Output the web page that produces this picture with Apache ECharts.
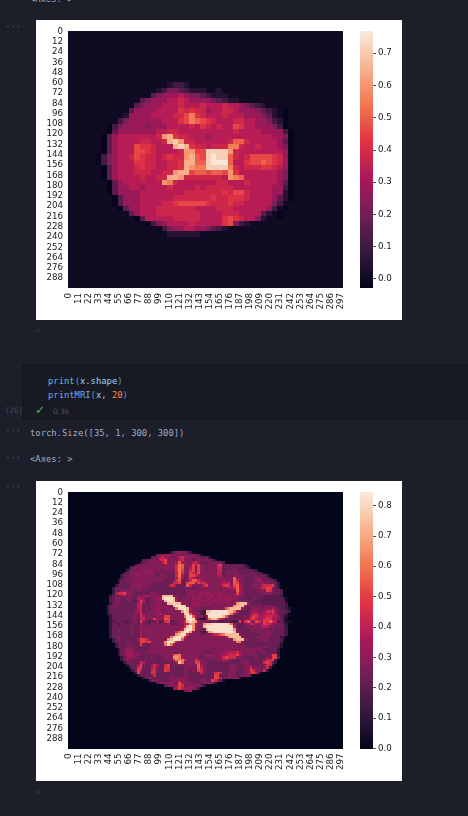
<!DOCTYPE html>
<html><head><meta charset="utf-8">
<script src="https://cdn.jsdelivr.net/npm/echarts@6/dist/echarts.min.js"></script>
<style>
html,body{margin:0;padding:0;background:#1c1e2a;width:468px;height:816px;overflow:hidden}
.t{position:absolute;white-space:pre;font-family:"DejaVu Sans Mono",monospace;font-size:8.85px;line-height:12px;color:#a8abc4}
.p{position:absolute;left:36px;width:366px;height:300px;background:#fff}
#c{position:absolute;left:0;top:0;width:468px;height:816px;filter:blur(0.4px)}
</style></head><body>
<div class="p" style="top:20px"></div>
<div class="p" style="top:481px"></div>
<div style="position:absolute;left:23px;top:365px;width:445px;height:54px;background:#181a23;box-shadow:0 0 0 1px #14151d"></div>
<div class="t" style="left:30px;top:-7px">&lt;Axes: &gt;</div>
<div class="t" style="left:5px;top:21px;color:#555868">···</div>
<div class="t" style="left:48px;top:375px"><span style="color:#4fc3e8">print</span><span style="color:#5b9bd8">(</span><span style="color:#9cd4fb">x.shape</span><span style="color:#5b9bd8">)</span></div>
<div class="t" style="left:48px;top:389px"><span style="color:#6ea8f0">printMRI</span><span style="color:#5b9bd8">(</span><span style="color:#9cd4fb">x,</span><span style="color:#3a3c48"> </span><span style="color:#ff8a4c">20</span><span style="color:#5b9bd8">)</span></div>
<div class="t" style="left:5px;top:405px;color:#454754;font-size:7.5px">[26]</div>
<div style="position:absolute;left:35px;top:403px;color:#5fb35f;font:12px/14px 'DejaVu Sans'">✓</div>
<div class="t" style="left:53px;top:406px;color:#50525e;font-size:7.5px;font-family:'DejaVu Sans'">0.3s</div>
<div class="t" style="left:5px;top:425px;color:#555868">···</div>
<div class="t" style="left:30px;top:427px">torch.Size([35, 1, 300, 300])</div>
<div class="t" style="left:5px;top:452px;color:#555868">···</div>
<div class="t" style="left:30px;top:453px">&lt;Axes: &gt;</div>
<div class="t" style="left:5px;top:481px;color:#555868">···</div>
<div class="t" style="left:34px;top:324px;color:#2a2c38">◀</div>
<div class="t" style="left:34px;top:785px;color:#2a2c38">◀</div>
<div id="c"></div>
<script>
const pixelCategories = Array.from({length:300},(_,i)=>String(i));
const lowResCols = 50, hiResCols = 100;
const lowResLevels = [0,.05,.11,.16,.22,.28,.335,.38,.42,.46,.5,.55,.6,.65,.71,.76];
const hiResLevels = [0,.04,.08,.13,.19,.23,.28,.33,.38,.44,.5,.55,.6,.66,.74,.82];
const lowResRange = [-0.029,0.769], hiResRange = [0,0.844];
const lowResTicks = [0,0.1,0.2,0.3,0.4,0.5,0.6,0.7];
const hiResTicks = [0,0.1,0.2,0.3,0.4,0.5,0.6,0.7,0.8];
const rocket = ['#03051a','#35193e','#701f57','#ad1759','#e13342','#f37651','#f6b48f','#faebdd'];

// First map: intensity levels per row, starting at row 10, col 0
const lowResFirstRow = 10;
const lowResRows = [
"00000 00000 00000 00012 21000",
"00000 00000 00000 01244 32111 00100",
"00000 00000 00000 34555 65443 21110",
"00000 00000 00034 55566 76555 54321 10000",
"00000 00000 00345 55666 76667 66676 65432 1",
"00000 00000 03555 56666 87877 56677 65554 3210-",
"00000 00000 15555 66667 79b87 66676 66555 4310-",
"00000 00002 45555 55666 89ba9 87666 77665 5421-",
"00000 00-24 55554 55566 66768 76766 98665 5542-",
"00000 00-35 55555 56677 66666 66666 76666 55552 -",
"00000 0-356 66666 67cd8 77666 56666 66666 66554 -",
"00000 0-356 66677 667de c7766 66667 aa766 66653 -",
"00000 0-356 66988 7666d ed877 6777b b7667 66654 -",
"00000 0-356 66998 76666 7cc99 eeeec 76666 66665 -",
"00000 -2456 67987 76787 7cda9 efeea 76799 99875 -",
"00000 -2456 66887 76677 8ddaa efffa 66899 a9875 -",
"00000 0-356 66787 76677 8dcbb eeeeb 76777 88765 -",
"00000 0-356 66777 6677c dd9aa 9aa9c 86666 66654 -",
"00000 0-356 66676 677dd c7777 7776c ba666 66654 -",
"00000 00-35 66666 66cb7 66666 66776 66766 66653 -",
"00000 00-35 56656 66676 66676 77777 66666 66552 -",
"00000 00-35 55566 66666 67777 77787 99766 66551 -",
"00000 000-3 55566 66667 77777 78778 88766 66531 -",
"00000 000-3 55566 66778 99999 87778 77666 66420",
"00000 0000- 35566 67777 77766 66777 66666 6520-",
"00000 00000 03566 67777 77776 66677 76666 310-0",
"00000 00000 00-36 66667 77776 66689 87664 100-0",
"00000 00000 0000- 24566 66766 66689 42100",
"00000 00000 00000 00245 56655 43210",
"00000 00000 00000 00011 11110"
];

// Second map: intensity levels per row, starting at row 23, col 10
const hiResFirstRow = 23, hiResFirstCol = 10;
const hiResRows = [
"00000 00000 00000 00000 00000 00356 66653 10000",
"00000 00000 00000 00000 00566 78666 65666 66420",
"00000 00000 00000 00000 55689 76666 89766 66655 53000",
"00000 00000 00000 00456 66699 a6656 89666 56666 66530",
"00000 00000 00000 03566 66668 a6667 b7766 89755 56665 64000",
"00000 00000 00003 65666 66666 76669 cb766 a8a66 56669 a5555 55553",
"00000 00000 00356 66666 66666 66669 cb668 a5a76 56669 95555 65544 30000",
"00000 00000 03565 66667 66665 66669 ca669 a5a66 56668 95565 65555 55430",
"00000 00000 35566 66676 76565 55668 c966a 97a66 66669 85666 66555 55554 30000",
"00000 00003 55666 76666 66566 65559 c856a a9766 66668 85565 66655 65555 55300",
"00000 00003 55566 67666 66666 55558 b7569 87666 66666 66666 b6665 55666 55530",
"00000 00035 56666 66666 66666 55569 b5569 bb976 66666 67666 b9665 55567 65555 30000",
"00000 00035 55666 66666 65555 55599 a55ab b6a99 77666 68896 ba665 55566 76655 53000",
"00000 00355 55566 76666 55555 56995 555b9 66669 a6666 69a97 ab765 55666 8999a 53000",
"00000 03555 55566 66665 55555 55555 55555 55666 66666 66687 9b865 55666 99aa6 53000",
"00000 03556 66665 66555 55555 55555 55566 66666 66666 66666 6b865 55556 66a96 55400",
"00000 03899 a7665 55555 66655 55555 55566 66676 77667 76666 6a765 55555 66665 55400",
"00000 35556 76655 66787 6666e eee66 55566 76676 76767 67776 66665 55555 55444 44310",
"00000 45665 56655 88755 6677e fffe7 56666 76766 67676 76777 66555 45555 54444 44431",
"00000 45665 55654 6a855 66676 effe8 56666 67676 76777 67776 66665 55544 44444 44441",
"00000 35665 55555 89655 66766 6eefe e6666 77766 67666 66666 6deee 75555 54444 44443",
"00003 55655 55555 89555 66666 666ef ffe66 76666 66666 66666 deee7 56556 55665 54443",
"00003 55655 55555 89565 66766 6666c fffe7 66655 55666 66bde eee75 55666 56668 65443 2",
"00003 55555 55556 79566 66766 66666 6dfe7 66543 eefff fffee c7555 56776 6799a 75554 3",
"00003 45555 55556 69666 66686 66666 66efb 76643 effff fffec 75555 56897 78889 85443",
"00000 35555 55566 59866 66666 aa666 66cff b6664 7ffff feb75 55556 58a98 78998 86532",
"00000 35555 55566 58966 6a766 ba766 668ff f8322 7ceec 97555 55556 69a86 89a97 76531",
"00000 34555 44556 5a654 55745 9a455 679ef ed766 65565 44554 34a59 b86a9 7a9b9 84532 1",
"00000 35545 55555 57555 66656 67555 6689d d766d eefff fffeb 75556 69876 7a986 75542",
"00000 35555 55565 57666 66666 66666 669ef d766e fffff fffff 85555 65666 88866 55543",
"00000 35565 55565 57666 66666 66666 68eff d6654 effff fffff d5555 56666 66656 55543",
"00000 35565 55565 58666 66666 66669 ceffd 66543 7deff fffff e6555 55666 66665 55543",
"00000 35555 55565 57666 66666 6666d eff96 66655 66799 bceee ee755 55555 66665 55543",
"00000 35565 55555 58666 66666 66cef fe966 66666 66666 668de eee65 55566 65655 55330",
"00000 03565 55555 7aa96 66666 6deff fb666 66666 66666 66676 deee6 55556 66655 55420",
"00000 03555 56555 6aa9a 66666 dffe8 66666 66666 66666 66666 6cc65 55555 55555 55310",
"00000 00355 55655 5a655 66666 cfc76 66666 66666 66666 66666 66665 55555 55555 54200",
"00000 00355 56665 55555 66666 66666 66666 66666 66666 67666 66666 55555 56655 54200",
"00000 00035 67665 55556 66666 66666 66666 66666 66666 66666 66666 66666 65555 53000",
"00000 00035 57776 65566 66666 66655 66666 66665 55566 67788 89766 66655 66555 53000",
"00000 00035 67776 66555 55556 666bc c7666 66656 77766 77899 9a866 66665 5556a a3000",
"00000 00003 57776 55555 65556 666dd c7666 66655 66666 69a99 96655 55565 5566a a4000",
"00000 00003 56655 55565 55555 6669c cc966 6a866 55566 68865 55566 55555 5699a 30000",
"00000 00000 35655 59855 56555 55567 ec666 6aa66 65555 55555 55566 65555 69a95 30000",
"00000 00000 03555 7a655 79855 9a565 66666 66b76 55555 55556 65556 66555 56993",
"00000 00000 00355 9a555 89655 9a565 55666 65b86 55555 55556 66556 69666 56930",
"00000 00000 00035 a8555 99655 a9555 55665 65a96 55555 55566 65556 6a966 59300",
"00000 00000 00003 a6555 a9555 55555 55655 55596 5559a 95566 65556 69a83",
"00000 00000 00000 35555 59555 55655 55665 55555 555aa 55566 65566 63000",
"00000 00000 00000 00356 55555 55665 66665 55555 555aa 85566 66300",
"00000 00000 00000 00003 66655 55666 76665 55566 55a96 52000",
"00000 00000 00000 00000 00467 66665 a7666 65556 66530",
"00000 00000 00000 00000 00000 46666 a9666 66653",
"00000 00000 00000 00000 00000 00077 a8777 66300",
"00000 00000 00000 00000 00000 00000 00567"
];

function decode(rows, firstRow, firstCol, cols, levels){
  const grid={};
  rows.forEach((s,ri)=>{[...s.replace(/ /g,'')].forEach((ch,ci)=>{
    grid[(ri+firstRow)+','+(ci+firstCol)] = ch==='-' ? -0.025 : levels[parseInt(ch,16)];
  });});
  const out=[];
  for(let r=0;r<cols;r++)for(let c=0;c<cols;c++) out.push([c,r,grid[r+','+c]||0]);
  return out;
}
function ramp(range){
  const n=120,a=[];
  for(let i=0;i<n;i++)a.push([0,i,range[0]+(range[1]-range[0])*(i+0.5)/n]);
  return a;
}
const idx=n=>Array.from({length:n},(_,i)=>String(i));
const txt={color:'#222',fontSize:8.7,fontFamily:'DejaVu Sans'};
const tick={length:3,lineStyle:{color:'#222',width:0.8}};
const grids=[
 {left:68,top:31,width:275,height:257},
 {left:68,top:492,width:275,height:256.5},
 {left:360,top:31,width:13,height:257},
 {left:360,top:492,width:13,height:256.5}
];
function cell(params,api){
  const p=api.coord([api.value(0),api.value(1)]), s=api.size([1,1]);
  const x0=Math.round(p[0]-s[0]/2), x1=Math.round(p[0]+s[0]/2);
  const y0=Math.round(p[1]-s[1]/2), y1=Math.round(p[1]+s[1]/2);
  return {type:'rect',shape:{x:x0,y:y0,width:x1-x0,height:y1-y0},style:{fill:api.visual('color')}};
}
const xAxes=[],yAxes=[],series=[];
function heatPanel(g,cols,data){
  const xv=xAxes.length;
  xAxes.push({type:'category',gridIndex:g,data:pixelCategories,position:'bottom',axisLine:{show:false},
    axisTick:{...tick,interval:10,alignWithLabel:true},splitLine:{show:false},
    axisLabel:{...txt,interval:10,rotate:90,margin:5,hideOverlap:false}});
  xAxes.push({type:'category',gridIndex:g,data:idx(cols),show:false});
  const yv=yAxes.length;
  yAxes.push({type:'category',gridIndex:g,data:pixelCategories,inverse:true,position:'left',axisLine:{show:false},
    axisTick:{...tick,interval:11,alignWithLabel:true},splitLine:{show:false},
    axisLabel:{...txt,interval:11,margin:5,hideOverlap:false}});
  yAxes.push({type:'category',gridIndex:g,data:idx(cols),inverse:true,show:false});
  series.push({type:'custom',renderItem:cell,encode:{x:0,y:1},xAxisIndex:xv+1,yAxisIndex:yv+1,data,progressive:0,animation:false,silent:true});
}
function barPanel(g,range,ticks){
  const xv=xAxes.length;
  xAxes.push({type:'category',gridIndex:g,data:['0'],show:false});
  const yv=yAxes.length;
  yAxes.push({type:'category',gridIndex:g,data:idx(120),show:false});
  yAxes.push({type:'value',gridIndex:g,position:'right',min:range[0],max:range[1],
    axisLine:{show:false},splitLine:{show:false},
    axisTick:{show:true,...tick,customValues:ticks},
    axisLabel:{...txt,margin:5,customValues:ticks,formatter:v=>v.toFixed(1)}});
  series.push({type:'custom',renderItem:cell,encode:{x:0,y:1},xAxisIndex:xv,yAxisIndex:yv,data:ramp(range),progressive:0,animation:false,silent:true});
}
heatPanel(0,lowResCols,decode(lowResRows,lowResFirstRow,0,lowResCols,lowResLevels));
heatPanel(1,hiResCols,decode(hiResRows,hiResFirstRow,hiResFirstCol,hiResCols,hiResLevels));
barPanel(2,lowResRange,lowResTicks);
barPanel(3,hiResRange,hiResTicks);
const chart=echarts.init(document.getElementById('c'),null,{renderer:'canvas',width:468,height:816});
chart.setOption({
  backgroundColor:'transparent',animation:false,tooltip:{show:false},
  grid:grids,xAxis:xAxes,yAxis:yAxes,series,
  visualMap:[
   {show:false,type:'continuous',seriesIndex:[0,2],min:lowResRange[0],max:lowResRange[1],dimension:2,inRange:{color:rocket}},
   {show:false,type:'continuous',seriesIndex:[1,3],min:hiResRange[0],max:hiResRange[1],dimension:2,inRange:{color:rocket}}
  ]
});
</script>
</body></html>
